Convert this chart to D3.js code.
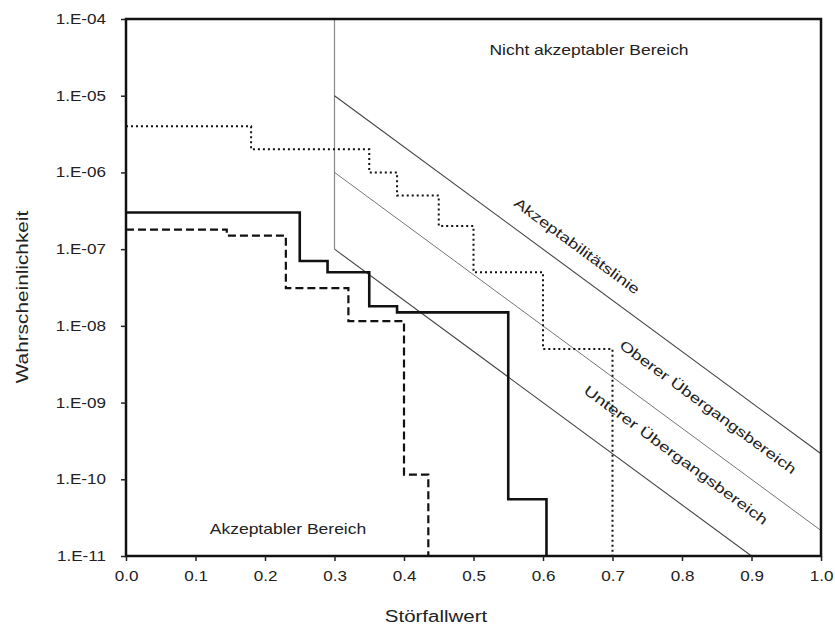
<!DOCTYPE html>
<html>
<head>
<meta charset="utf-8">
<script src="https://cdn.jsdelivr.net/npm/d3@7"></script>
<style>
  body { margin: 0; background: #fff; }
  svg text { font-family: "Liberation Sans", Arial, sans-serif; fill: #222; }
</style>
</head>
<body>
<div id="chart"></div>
<script>
// step curves: [x, y] with step-after
const dotted = [[0.0, 4e-6], [0.18, 2e-6], [0.35, 1e-6], [0.39, 5e-7], [0.45, 2e-7], [0.50, 5e-8], [0.60, 5e-9], [0.70, 1e-11]];
const solid = [[0.0, 3e-7], [0.25, 7e-8], [0.29, 5e-8], [0.35, 1.8e-8], [0.39, 1.5e-8], [0.55, 5.5e-11], [0.605, 1e-11]];
const dashed = [[0.0, 1.8e-7], [0.145, 1.5e-7], [0.23, 3.1e-8], [0.32, 1.15e-8], [0.40, 1.15e-10], [0.435, 1e-11]];

// boundary lines
const borderV = [[0.3, 1e-4], [0.3, 1e-7]];
const lineAccept = [[0.3, 1e-5], [1.0, 2.15e-10]];
const lineUpper = [[0.3, 1e-6], [1.0, 2.15e-11]];
const lineLower = [[0.3, 1e-7], [0.9, 1e-11]];

const xTicks = [0, 0.1, 0.2, 0.3, 0.4, 0.5, 0.6, 0.7, 0.8, 0.9, 1.0];
const yTicks = [1e-4, 1e-5, 1e-6, 1e-7, 1e-8, 1e-9, 1e-10, 1e-11];
const yTickLabels = ['1.E-04', '1.E-05', '1.E-06', '1.E-07', '1.E-08', '1.E-09', '1.E-10', '1.E-11'];

const margins = { top: 19, right: 14, bottom: 72, left: 126 },
  W = 835, H = 628,
  width = W - margins.left - margins.right,
  height = H - margins.top - margins.bottom;

const svg = d3.select('#chart').append('svg')
  .attr('width', W).attr('height', H)
  .append('g')
  .attr('transform', `translate(${margins.left},${margins.top})`);

const x = d3.scaleLinear().domain([0, 1]).range([0, width]);
const y = d3.scaleLog().domain([1e-11, 1e-4]).range([height, 0]);

svg.append('defs').append('clipPath').attr('id', 'clip')
  .append('rect').attr('width', width).attr('height', height);

const line = d3.line().x(d => x(d[0])).y(d => y(d[1]));
const step = d3.line().x(d => x(d[0])).y(d => y(d[1])).curve(d3.curveStepAfter);

const plot = svg.append('g').attr('clip-path', 'url(#clip)');

plot.append('path').attr('d', line(borderV)).attr('fill', 'none').attr('stroke', '#888').attr('stroke-width', 1.2);
plot.append('path').attr('d', line(lineAccept)).attr('fill', 'none').attr('stroke', '#444').attr('stroke-width', 1.1);
plot.append('path').attr('d', line(lineUpper)).attr('fill', 'none').attr('stroke', '#666').attr('stroke-width', 0.9);
plot.append('path').attr('d', line(lineLower)).attr('fill', 'none').attr('stroke', '#444').attr('stroke-width', 1.1);

plot.append('path').attr('d', step(dotted)).attr('fill', 'none')
  .attr('stroke', '#111').attr('stroke-width', 2).attr('stroke-dasharray', '2,3');
plot.append('path').attr('d', step(dashed)).attr('fill', 'none')
  .attr('stroke', '#111').attr('stroke-width', 2.2).attr('stroke-dasharray', '8,4');
plot.append('path').attr('d', step(solid)).attr('fill', 'none')
  .attr('stroke', '#111').attr('stroke-width', 2.6);

// frame
svg.append('rect').attr('width', width).attr('height', height)
  .attr('fill', 'none').attr('stroke', '#111').attr('stroke-width', 2.5);

// axes (labels stretched a bit wider like the original)
const sx = 1.22;
const xAxis = svg.append('g').attr('transform', `translate(0,${height})`)
  .call(d3.axisBottom(x).tickValues(xTicks).tickFormat(d3.format('.1f')).tickSize(5).tickPadding(10));
const yAxis = svg.append('g')
  .call(d3.axisLeft(y).tickValues(yTicks).tickFormat((d, i) => yTickLabels[i]).tickSize(5).tickPadding(20));
[xAxis, yAxis].forEach(a => {
  a.select('.domain').remove();
  a.selectAll('line').attr('stroke', '#222').attr('stroke-width', 1.5);
  a.selectAll('text').style('font-family', '"Liberation Sans", Arial, sans-serif').style('font-size', '14px').attr('fill', '#333');
});
xAxis.selectAll('text').attr('transform', `scale(${sx},1)`);
yAxis.selectAll('text').attr('x', -20 / sx).attr('transform', `scale(${sx},1)`);

// stretched text helper, coordinates in page pixels
const label = (cx, cy, txt, size, stretch, rot = 0) => svg.append('text')
  .attr('transform', `translate(${cx - margins.left},${cy - margins.top}) rotate(${rot}) scale(${stretch},1)`)
  .attr('text-anchor', 'middle').attr('dy', '0.35em').style('font-size', size + 'px').text(txt);

// axis titles
label(436, 616, 'Störfallwert', 16, 1.28);
label(22, 297, 'Wahrscheinlichkeit', 16, 1.3, -90);

// region labels
label(589, 50, 'Nicht akzeptabler Bereich', 14, 1.25);
label(288, 529, 'Akzeptabler Bereich', 14, 1.25);

const ang = Math.atan2(y(lineAccept[1][1]) - y(lineAccept[0][1]), x(lineAccept[1][0]) - x(lineAccept[0][0])) * 180 / Math.PI;
label(577, 246, 'Akzeptabilitätslinie', 14, 1.32, ang);
label(708, 407, 'Oberer Übergangsbereich', 14, 1.33, ang);
label(676, 455, 'Unterer Übergangsbereich', 14, 1.36, ang);
</script>
</body>
</html>
